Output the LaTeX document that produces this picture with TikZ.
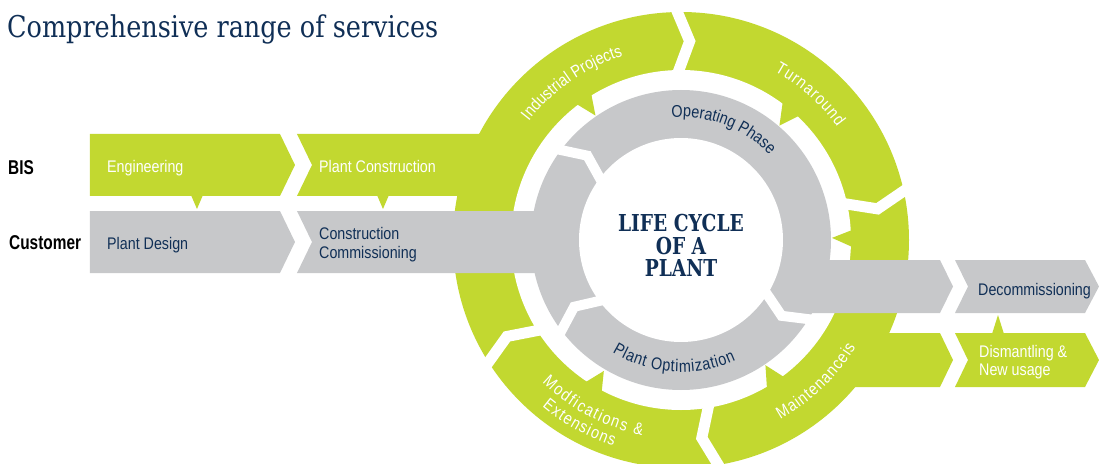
\documentclass[tikz,border=0pt]{standalone}
\usepackage{fontspec}
\usetikzlibrary{decorations.text}
\newfontfamily\bandfont[FakeStretch=0.85]{Liberation Sans}
\newfontfamily\labfont[FakeStretch=0.77]{Liberation Sans}
\newfontfamily\titlefont[FakeStretch=0.85]{DejaVu Serif}
\newfontfamily\lifefont[FakeStretch=0.8]{DejaVu Serif}
\newcommand\rngfont{\bandfont\fontsize{17}{20}\selectfont}
\definecolor{lime}{RGB}{194,216,48}
\definecolor{pgray}{RGB}{199,200,202}
\definecolor{navy}{RGB}{16,47,86}
\tikzset{
  gfill/.style={fill=lime, draw=none},
  kfill/.style={fill=pgray, draw=none},
  ringcut/.style={draw=white, line width=11pt, line join=miter, line cap=butt},
  graycut/.style={draw=white, line width=10pt, line join=miter, line cap=butt},
  bandtxt/.style={inner sep=0pt, anchor=base west, font=\bandfont\fontsize{16.8}{19}\selectfont},
  sidetxt/.style={inner sep=0pt, anchor=base west, text=black, font=\labfont\bfseries\fontsize{20}{24}\selectfont},
  lifetxt/.style={inner sep=0pt, anchor=base, text=navy, font=\lifefont\bfseries\fontsize{23.3}{26}\selectfont},
  ringtext/.style={decorate, decoration={text along path, text align={fit to path}, text={#1}}}
}
\begin{document}
\begin{tikzpicture}[x=1pt,y=1pt]
\useasboundingbox (-681,-223) rectangle (418,240);
% ---------- green layer
\fill[gfill] (0,0) circle[radius=228];
\fill[gfill] (-591,106) -- (-401,106) -- (-386,75) -- (-401,44) -- (-591,44) -- cycle;
\fill[gfill] (-384,106) -- (0,106) -- (0,44) -- (-384,44) -- (-369,75) -- cycle;
\fill[gfill] (0,-93) -- (259,-93) -- (272,-120) -- (259,-147) -- (0,-147) -- cycle;
\fill[gfill] (274,-93) -- (404,-93) -- (418,-120) -- (404,-147) -- (274,-147) -- (287,-120) -- cycle;
\fill[gfill] (-490,45) -- (-478,45) -- (-484,31) -- cycle;
\fill[gfill] (-304,45) -- (-292,45) -- (-298,31) -- cycle;
\fill[gfill] (311,-94) -- (323,-94) -- (317,-75) -- cycle;
% gap between rings
\fill[white] (0,0) circle[radius=170];
% pointers of the green ring
\fill[gfill] (121.5:172) -- (127.6:172) -- (124.5:151) -- cycle;
\fill[gfill] (46.4:172) -- (53.7:172) -- (49.3:151) -- cycle;
\fill[gfill] (-2.4:172) -- (3.4:172) -- (0.8:151) -- cycle;
\fill[gfill] (-60:172) -- (-53:172) -- (-56:151) -- cycle;
\fill[gfill] (-124:172) -- (-117.5:172) -- (-120.5:152) -- cycle;
% ---------- gray layer
\fill[kfill] (0,0) circle[radius=150];
\fill[kfill] (-591,29) -- (-401,29) -- (-386,-2) -- (-401,-33) -- (-591,-33) -- cycle;
\fill[kfill] (-384,29) -- (0,29) -- (0,-33) -- (-384,-33) -- (-369,-2) -- cycle;
\fill[kfill] (0,-20) -- (259,-20) -- (272,-46.5) -- (259,-73) -- (0,-73) -- cycle;
\fill[kfill] (274,-20) -- (404,-20) -- (418,-46.5) -- (404,-73) -- (274,-73) -- (287,-46.5) -- cycle;
\fill[white] (0,0) circle[radius=102];
% ---------- chevron cuts
\draw[ringcut] (91.5:164) -- (87.5:199) -- (91.5:234);
\draw[ringcut] (13:164) -- (9:199) -- (13:234);
\draw[ringcut] (-80:164) -- (-84:199) -- (-80:234);
\draw[ringcut] (213:164) -- (209:199) -- (213:234);
\draw[graycut] (144:97) -- (138:126) -- (144:155);
\draw[graycut] (218:97) -- (212:126) -- (218:155);
\draw[graycut] (-31:97) -- (-37:126) -- (-31:155);
% ---------- texts
\node[inner sep=0pt, anchor=base west, text=navy, font=\titlefont\fontsize{30}{36}\selectfont] (title) at (-674,202.7) {Comprehensive range of services};
\node[sidetxt] (bis) at (-673,65.7) {BIS};
\node[sidetxt] (cust) at (-672,-9.3) {Customer};
\node[bandtxt, text=white] (eng) at (-574,67.3) {Engineering};
\node[bandtxt, text=white] (pc) at (-362,67.3) {Plant Construction};
\node[bandtxt, text=navy] (pd) at (-574,-9.3) {Plant Design};
\node[bandtxt, text=navy] (cc1) at (-362,0.7) {Construction};
\node[bandtxt, text=navy] (cc2) at (-362,-18.3) {Commissioning};
\node[bandtxt, text=navy] (dec) at (297,-55) {Decommissioning};
\node[bandtxt, text=white] (dis1) at (298,-117.3) {Dismantling \&};
\node[bandtxt, text=white] (dis2) at (298,-135.7) {New usage};
\node[lifetxt] (lc1) at (0,8.3) {LIFE CYCLE};
\node[lifetxt] (lc2) at (0,-14) {OF A};
\node[lifetxt] (lc3) at (0,-36.7) {PLANT};
% ring texts
\path[ringtext={|\rngfont\color{white}|Industrial Projects}] (142:193) arc[start angle=142, end angle=107.5, radius=193];
\path[ringtext={|\rngfont\color{white}|Turnaround}] (61:193) arc[start angle=61, end angle=36, radius=193];
\path[ringtext={|\rngfont\color{navy}|Operating Phase}] (94.4:123) arc[start angle=94.4, end angle=44.2, radius=123];
\path[ringtext={|\rngfont\color{navy}|Plant Optimization}] (-121.3:132) arc[start angle=-121.3, end angle=-65.5, radius=132];
\path[ringtext={|\rngfont\color{white}|Maintenanceis}] (-61:205) arc[start angle=-61, end angle=-31.5, radius=205];
\path[ringtext={|\rngfont\color{white}|Modfications {\&}}] (-134.2:199) arc[start angle=-134.2, end angle=-101.3, radius=199];
\path[ringtext={|\rngfont\color{white}|Extensions}] (-129.8:217) arc[start angle=-129.8, end angle=-108.1, radius=217];
\end{tikzpicture}
\end{document}
